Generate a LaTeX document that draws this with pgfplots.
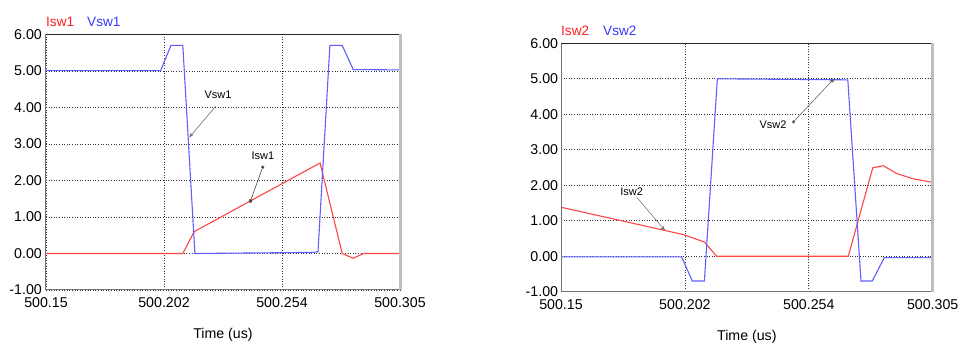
\documentclass[border=0pt]{standalone}
\usepackage{fontspec}
\setmainfont{Liberation Sans}
\usepackage{pgfplots}
\pgfplotsset{compat=1.18}
\usetikzlibrary{arrows.meta}
\definecolor{isw}{RGB}{255,70,70}
\definecolor{vsw}{RGB}{95,95,255}
\definecolor{ttlred}{RGB}{255,30,30}
\definecolor{ttlblue}{RGB}{55,55,255}
\pgfplotsset{
  swaxis/.style={
    scale only axis,
    anchor=south west,
    clip=false,
    xmin=0, xmax=155, ymin=-1, ymax=6,
    xtick={0,51.667,103.333,155},
    xticklabels={500.15,500.202,500.254,500.305},
    ytick={-1,0,1,2,3,4,5,6},
    yticklabel style={/pgf/number format/fixed, /pgf/number format/fixed zerofill, /pgf/number format/precision=2},
    grid=major,
    major grid style={black!80, dash pattern=on 1pt off 1.6pt, line width=0.8pt},
    tick style={draw=none},
    axis line style={draw=none},
    tick label style={font=\fontsize{14.2}{16}\selectfont},
    /pgf/number format/assume math mode=true,
    yticklabel style={anchor=east, inner sep=0pt, xshift=-4pt},
    xticklabel style={anchor=north, inner sep=0pt, yshift=-7.5pt},
    xlabel={Time (us)},
    xlabel style={at={(axis description cs:0.5,0)}, anchor=base, inner sep=0pt, yshift=-49pt, font=\fontsize{14.2}{16}\selectfont},
  },
  isw/.style={color=isw, line width=1.1pt, no marks},
  vsw/.style={color=vsw, line width=1.1pt, no marks},
}
\newcommand{\swframe}{%
  \draw[black!55, line width=1pt] (rel axis cs:0,1) -- (rel axis cs:0,0) -- (rel axis cs:1,0);
  \draw[black!85, line width=1pt] (rel axis cs:0,1) -- (rel axis cs:1,1);
  \draw[black!25, line width=3pt] (rel axis cs:1,0) -- (rel axis cs:1,1);
}
\begin{document}
\begin{tikzpicture}
\path[use as bounding box] (0,0) rectangle (961pt,344pt);
% ---------------- left panel ----------------
\begin{axis}[swaxis, at={(46pt,54pt)}, width=354pt, height=255.5pt]
\addplot[isw] coordinates {
 (0,0) (59.9,0) (64.9,0.60) (120.0,2.48) (129.7,0) (134.5,-0.13) (139.1,0) (155,0)
};
\addplot[vsw] coordinates {
 (0,5.01) (50.2,5.01) (54.7,5.70) (59.9,5.70) (65.2,0.0) (117.0,0.03) (119.1,0.05)
 (124.3,5.70) (129.7,5.70) (134.5,5.04) (155,5.03)
};
\swframe
\node[anchor=base west, inner sep=0pt, text=ttlred, font=\fontsize{13.6}{15}\selectfont, yshift=7.5pt] at (rel axis cs:0,1) {Isw1};
\node[anchor=base west, inner sep=0pt, text=ttlblue, font=\fontsize{13.6}{15}\selectfont, yshift=7.5pt, xshift=41pt] at (rel axis cs:0,1) {Vsw1};
\draw[black!55, line width=0.6pt, -{Stealth[length=5pt]}] (74.4,4.04) -- (62.7,3.18);
\node[font=\fontsize{11}{13}\selectfont, inner sep=0pt] at (75.3,4.36) {Vsw1};
\draw[black!70, line width=0.6pt, {Square[length=2.5pt]}-{Square[length=3pt]}] (95.1,2.40) -- (89.3,1.40);
\node[font=\fontsize{11}{13}\selectfont, inner sep=0pt] at (95.0,2.67) {Isw1};
\end{axis}
% ---------------- right panel ----------------
\begin{axis}[swaxis, at={(561pt,52.3pt)}, width=371.7pt, height=248.4pt,
  yticklabel style={xshift=1.3pt}]
\addplot[isw] coordinates {
 (0,1.38) (51.0,0.61) (59.8,0.40) (64.9,0) (119.8,0) (130.0,2.49) (134.4,2.55)
 (140.0,2.33) (146.9,2.18) (155,2.08)
};
\addplot[vsw] coordinates {
 (0,-0.02) (50.3,-0.02) (54.75,-0.70) (59.8,-0.70) (65.2,5.00) (119.6,4.97)
 (125.1,-0.70) (129.8,-0.70) (134.8,-0.04) (155,-0.04)
};
\swframe
\node[anchor=base west, inner sep=0pt, text=ttlred, font=\fontsize{13.6}{15}\selectfont, yshift=8pt] at (rel axis cs:0,1) {Isw2};
\node[anchor=base west, inner sep=0pt, text=ttlblue, font=\fontsize{13.6}{15}\selectfont, yshift=8pt, xshift=42pt] at (rel axis cs:0,1) {Vsw2};
\draw[black!55, line width=0.6pt, -{Stealth[length=5pt]}] (31.6,1.66) -- (43.4,0.72);
\node[font=\fontsize{11}{13}\selectfont, inner sep=0pt] at (29.5,1.83) {Isw2};
\draw[black!60, line width=0.6pt, {Square[length=2.5pt]}-{Square[length=3pt]}] (96.6,3.76) -- (113.5,4.98);
\node[font=\fontsize{11}{13}\selectfont, inner sep=0pt, anchor=east] at (94.1,3.71) {Vsw2};
\end{axis}
\end{tikzpicture}
\end{document}
